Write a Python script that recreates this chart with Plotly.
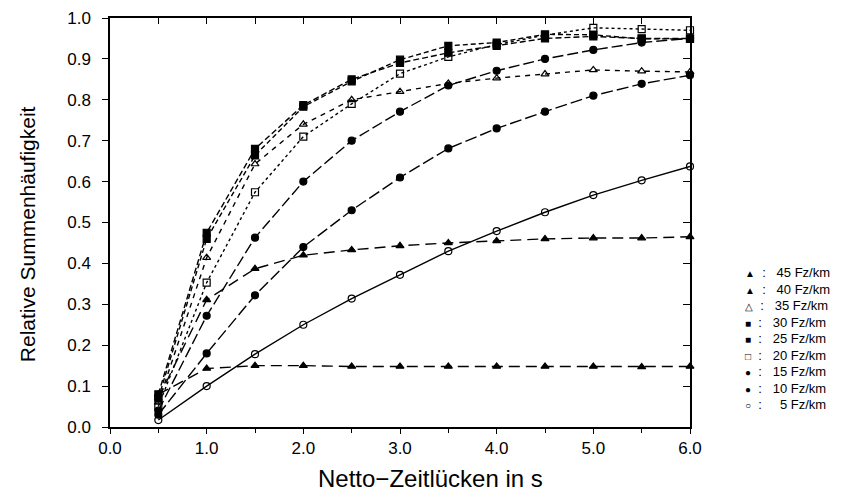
import plotly.graph_objects as go

# ---- data ----
gap_s = [0.5, 1.0, 1.5, 2.0, 2.5, 3.0, 3.5, 4.0, 4.5, 5.0, 5.5, 6.0]

labels = ["45 Fz/km", "40 Fz/km", "35 Fz/km", "30 Fz/km", "25 Fz/km",
          "20 Fz/km", "15 Fz/km", "10 Fz/km", "5 Fz/km"]

v45 = [0.08, 0.143, 0.150, 0.150, 0.148, 0.148, 0.148, 0.148, 0.148, 0.148, 0.147, 0.148]
v40 = [0.07, 0.311, 0.387, 0.420, 0.433, 0.443, 0.450, 0.455, 0.460, 0.462, 0.462, 0.465]
v35 = [0.06, 0.414, 0.643, 0.740, 0.800, 0.820, 0.840, 0.853, 0.863, 0.873, 0.870, 0.868]
v30 = [0.08, 0.475, 0.680, 0.787, 0.850, 0.890, 0.915, 0.932, 0.950, 0.955, 0.950, 0.950]
v25 = [0.07, 0.460, 0.664, 0.783, 0.845, 0.898, 0.932, 0.940, 0.960, 0.959, 0.949, 0.949]
v20 = [0.05, 0.353, 0.574, 0.710, 0.790, 0.864, 0.905, 0.935, 0.958, 0.976, 0.973, 0.970]
v15 = [0.04, 0.272, 0.463, 0.600, 0.700, 0.771, 0.835, 0.871, 0.900, 0.922, 0.940, 0.950]
v10 = [0.03, 0.180, 0.322, 0.440, 0.530, 0.610, 0.681, 0.730, 0.771, 0.810, 0.839, 0.860]
v05 = [0.017, 0.100, 0.178, 0.250, 0.314, 0.372, 0.430, 0.479, 0.525, 0.567, 0.603, 0.637]

series = [v45, v40, v35, v30, v25, v20, v15, v10, v05]
symbols = ["triangle-up", "triangle-up", "triangle-up-open", "square", "square",
           "square-open", "circle", "circle", "circle-open"]
legend_glyphs = ["▲", "▲", "△", "■", "■", "□", "●", "●", "○"]
dashes = ["11px,6px", "11px,6px", "5px,5px", "6px,3px", "5px,3px",
          "3px,3px", "11px,4px", "12px,4px", "solid"]

x_ticks = [0, 1, 2, 3, 4, 5, 6]
y_ticks = [0.0, 0.1, 0.2, 0.3, 0.4, 0.5, 0.6, 0.7, 0.8, 0.9, 1.0]
x_title = "Netto−Zeitlücken in s"
y_title = "Relative Summenhäufigkeit"

FONT = "Liberation Sans, Arial, sans-serif"
NB = "\u00a0"

fig = go.Figure()
for vals, sym, dash, lab in zip(series, symbols, dashes, labels):
    fig.add_trace(go.Scatter(
        x=gap_s, y=vals, mode="lines+markers", name=lab,
        line=dict(color="black", width=1.4, dash=dash),
        marker=dict(symbol=sym, size=7, color="black",
                    line=dict(color="black", width=1.2)),
        cliponaxis=False, showlegend=False))

# invisible trace to carry the mirror axes
fig.add_trace(go.Scatter(x=[0], y=[0], xaxis="x2", yaxis="y2", mode="markers",
                         marker=dict(opacity=0), showlegend=False, hoverinfo="skip"))

# legend built as annotations
y0 = 0.377
step = 0.0404
for i, (g, lab) in enumerate(zip(legend_glyphs, labels)):
    num, unit = lab.split(" ")
    num = num.rjust(2, "\u2007")
    fig.add_annotation(
        x=1.092, y=y0 - i * step, xref="paper", yref="paper",
        text=f"<span style='font-size:10px'>{g}</span>{NB}{NB}:{NB}{NB}{NB}{num}{NB}{unit}",
        showarrow=False, xanchor="left", yanchor="middle",
        font=dict(family=FONT, size=13, color="black"))

# axis titles
fig.add_annotation(x=0.552, y=-0.125, xref="paper", yref="paper", text=x_title,
                   showarrow=False, xanchor="center", yanchor="middle",
                   font=dict(family=FONT, size=24, color="black"))
fig.add_annotation(x=-0.141, y=0.472, xref="paper", yref="paper", text=y_title,
                   showarrow=False, xanchor="center", yanchor="middle", textangle=-90,
                   font=dict(family=FONT, size=21, color="black"))

fig.update_layout(
    width=835, height=489,
    margin=dict(l=102, r=153, t=10, b=70, autoexpand=False),
    paper_bgcolor="white", plot_bgcolor="white",
    font=dict(family=FONT, color="black"),
    xaxis=dict(range=[0, 6], tickvals=x_ticks, tickformat=".1f", automargin=False,
               ticks="outside", ticklen=5, tickwidth=1.2, tickcolor="black",
               ticklabeloverflow="allow",
               minor=dict(dtick=0.5, ticks="outside", ticklen=4, tickcolor="black"),
               showline=True, linecolor="black", linewidth=1.5,
               showgrid=False, zeroline=False,
               tickfont=dict(size=17, family=FONT)),
    yaxis=dict(range=[0, 1.0], tickvals=y_ticks, tickformat=".1f", automargin=False,
               ticks="outside", ticklen=6, tickwidth=1.2, tickcolor="black",
               ticklabelstandoff=8, ticklabeloverflow="allow",
               showline=True, linecolor="black", linewidth=1.5,
               showgrid=False, zeroline=False,
               tickfont=dict(size=17, family=FONT)),
    xaxis2=dict(range=[0, 6], overlaying="x", side="top", showticklabels=False, automargin=False,
                tickvals=[0.5, 1, 1.5, 2, 2.5, 3, 3.5, 4, 4.5, 5, 5.5],
                ticks="inside", ticklen=6, tickcolor="black",
                showline=True, linecolor="black", linewidth=1.5,
                showgrid=False, zeroline=False),
    yaxis2=dict(range=[0, 1.0], overlaying="y", side="right", showticklabels=False, automargin=False,
                tickvals=[0.1, 0.2, 0.3, 0.4, 0.5, 0.6, 0.7, 0.8, 0.9],
                ticks="inside", ticklen=7, tickcolor="black",
                showline=True, linecolor="black", linewidth=1.5,
                showgrid=False, zeroline=False),
)

fig.write_html("out.html")
